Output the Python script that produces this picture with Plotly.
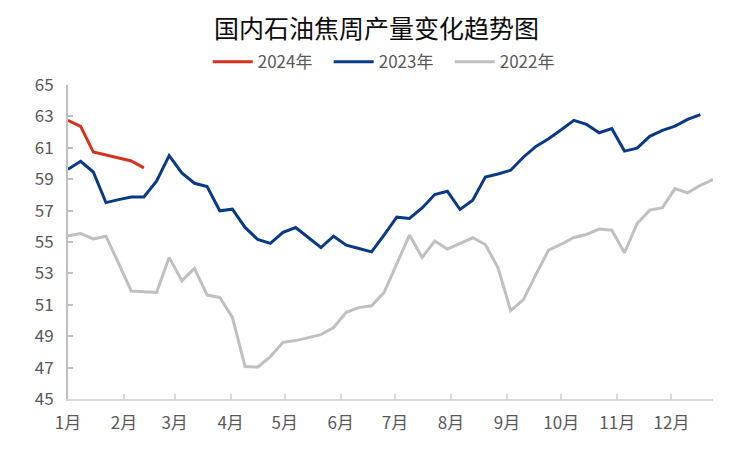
import plotly.graph_objects as go
import pandas as pd

# ---- data (weekly, week index from start of year) ----
month_labels = ["1月", "2月", "3月", "4月", "5月", "6月", "7月", "8月", "9月", "10月", "11月", "12月"]

y2024 = [62.75, 62.36, 60.73, 60.54, 60.35, 60.16, 59.72]

y2023 = [59.63, 60.14, 59.46, 57.51, 57.70, 57.87, 57.87, 58.87, 60.50, 59.40,
         58.74, 58.53, 56.99, 57.09, 55.93, 55.16, 54.91, 55.61, 55.92, 55.26,
         54.65, 55.37, 54.80, 54.59, 54.37, 55.46, 56.58, 56.50, 57.17, 58.02,
         58.23, 57.07, 57.66, 59.14, 59.33, 59.57, 60.40, 61.09, 61.58, 62.15,
         62.75, 62.49, 61.96, 62.22, 60.79, 60.98, 61.73, 62.11, 62.38, 62.81,
         63.11]

y2022 = [55.39, 55.54, 55.20, 55.37, 53.64, 51.88, 51.83, 51.79, 54.02, 52.53,
         53.32, 51.62, 51.47, 50.20, 47.07, 47.03, 47.70, 48.61, 48.72, 48.91,
         49.10, 49.55, 50.52, 50.82, 50.94, 51.79, 53.59, 55.44, 54.02, 55.06,
         54.55, 54.91, 55.27, 54.84, 53.36, 50.63, 51.31, 52.94, 54.48, 54.86,
         55.29, 55.48, 55.82, 55.75, 54.31, 56.18, 57.03, 57.19, 58.40, 58.13,
         58.61, 58.97]

series_names = ["2024年", "2023年", "2022年"]
series_colors = ["#d6301f", "#0a3a86", "#c0c0c0"]

base = pd.Timestamp("2023-01-01")


def weeks(n):
    return [base + pd.Timedelta(days=7 * i) for i in range(n)]


month_starts = [pd.Timestamp(2023, m, 1) for m in range(1, 13)]

fig = go.Figure()
for name, ys, col in zip(series_names, [y2024, y2023, y2022], series_colors):
    fig.add_trace(go.Scatter(x=weeks(len(ys)), y=ys, mode="lines", name=name,
                             line=dict(color=col, width=3)))

font_family = "Noto Sans CJK SC, Noto Sans, sans-serif"

fig.update_layout(
    width=750, height=451,
    margin=dict(l=68, r=37, t=85, b=52),
    paper_bgcolor="white", plot_bgcolor="white",
    font=dict(family=font_family, color="#595959", size=17),
    title=dict(text="国内石油焦周产量变化趋势图", x=0.502, xanchor="center",
               y=0.935, yanchor="middle",
               font=dict(size=25, color="#0d0d0d", family=font_family)),
    legend=dict(orientation="h", x=0.498, xanchor="center", y=1.073, yanchor="middle",
                entrywidth=66, itemwidth=40,
                font=dict(size=17, color="#595959"), bgcolor="rgba(0,0,0,0)"),
    showlegend=True,
)

fig.update_xaxes(
    type="date",
    range=[base, base + pd.Timedelta(days=7 * 51)],
    tickvals=month_starts, ticktext=month_labels,
    showgrid=False, zeroline=False,
    showline=True, linecolor="#d9d9d9", linewidth=2,
    ticks="inside", ticklen=5, tickcolor="#d9d9d9", tickwidth=1.5,
    tickfont=dict(size=17, color="#595959"),
    ticklabelstandoff=8,
)
fig.update_yaxes(
    range=[45, 65], tickvals=list(range(45, 66, 2)),
    showgrid=False, zeroline=False,
    showline=True, linecolor="#bfbfbf", linewidth=2,
    ticks="inside", ticklen=5, tickcolor="#bfbfbf", tickwidth=1.5,
    tickfont=dict(size=17, color="#595959"),
    ticklabelstandoff=9,
)

fig.write_html("out.html")
